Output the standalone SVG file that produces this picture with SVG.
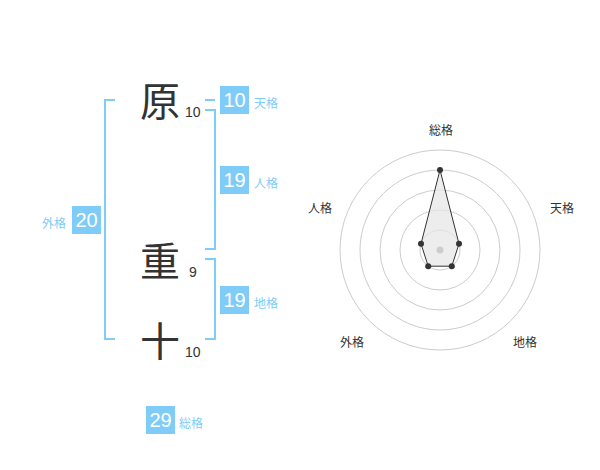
<svg xmlns="http://www.w3.org/2000/svg" width="600" height="470" viewBox="0 0 600 470">
<style>
.big{font-family:"Noto Sans CJK JP","Noto Sans CJK SC",sans-serif;font-size:40px;fill:#333;text-anchor:middle}
.num{font-family:"Liberation Sans",Arial,sans-serif;font-size:14px;fill:#333}
.box{fill:#80ccf8}
.bn{font-family:"Liberation Sans",Arial,sans-serif;font-size:20px;fill:#fff;text-anchor:middle}
.lb{font-family:"Noto Sans CJK JP","Noto Sans CJK SC",sans-serif;font-size:12px;fill:#80ccf8}
.br{fill:none;stroke:#80ccf8;stroke-width:2}
.ring{fill:none;stroke:#ccc;stroke-width:1}
.rl{font-family:"Noto Sans CJK JP","Noto Sans CJK SC",sans-serif;font-size:12px;fill:#333;text-anchor:middle}
.pt{fill:#333}
</style>
<rect width="600" height="470" fill="#fff"/>
<g id="connectors">
<path class="br" d="M205,100 H215"/>
<path class="br" d="M205,110 H215 V249 H205"/>
<path class="br" d="M205,259 H215 V339 H205"/>
<path class="br" d="M115,100 H105 V339 H115"/>
</g>
<g id="char1"><text class="big" x="160" y="116">原</text><text class="num" x="185" y="117">10</text></g>
<g id="char2"><text class="big" x="160" y="276">重</text><text class="num" x="189" y="277">9</text></g>
<g id="char3"><text class="big" x="160" y="356">十</text><text class="num" x="185" y="357">10</text></g>
<g id="tenkaku"><rect class="box" x="220" y="86" width="29" height="28"/><text class="bn" x="234.5" y="107">10</text><text class="lb" x="254" y="108">天格</text></g>
<g id="jinkaku"><rect class="box" x="220" y="166" width="29" height="28"/><text class="bn" x="234.5" y="187">19</text><text class="lb" x="254" y="188">人格</text></g>
<g id="chikaku"><rect class="box" x="220" y="286" width="29" height="28"/><text class="bn" x="234.5" y="307">19</text><text class="lb" x="254" y="308">地格</text></g>
<g id="gaikaku"><rect class="box" x="72" y="206" width="29" height="28"/><text class="bn" x="86.5" y="227">20</text><text class="lb" x="66" y="228" text-anchor="end">外格</text></g>
<g id="soukaku"><rect class="box" x="146" y="406" width="29" height="28"/><text class="bn" x="160.5" y="427">29</text><text class="lb" x="179" y="428">総格</text></g>
<g id="radar">
<circle class="ring" cx="440" cy="250" r="20"/>
<circle class="ring" cx="440" cy="250" r="40"/>
<circle class="ring" cx="440" cy="250" r="60"/>
<circle class="ring" cx="440" cy="250" r="80"/>
<circle class="ring" cx="440" cy="250" r="100"/>
<polygon points="440,170 459,243.8 451.8,266.2 428.2,266.2 421,243.8" fill="#e6e6e6" fill-opacity="0.7" stroke="#333" stroke-width="1"/>
<circle cx="440" cy="250" r="3.5" fill="#ccc"/>
<circle class="pt" cx="440" cy="170" r="3"/>
<circle class="pt" cx="459" cy="243.8" r="3"/>
<circle class="pt" cx="451.8" cy="266.2" r="3"/>
<circle class="pt" cx="428.2" cy="266.2" r="3"/>
<circle class="pt" cx="421" cy="243.8" r="3"/>
<text class="rl" x="441" y="135">総格</text>
<text class="rl" x="562" y="213">天格</text>
<text class="rl" x="320" y="213">人格</text>
<text class="rl" x="352" y="347">外格</text>
<text class="rl" x="525" y="347">地格</text>
</g>
</svg>
